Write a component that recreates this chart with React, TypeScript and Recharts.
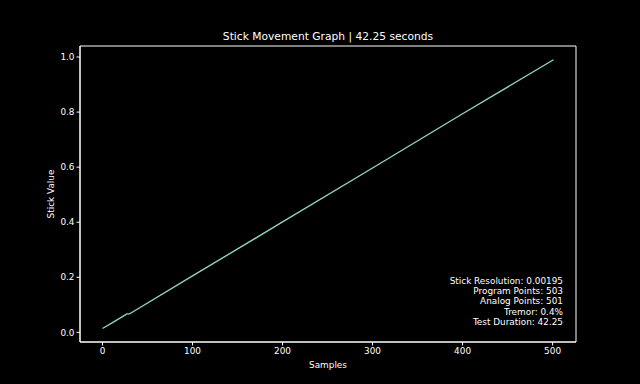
import { LineChart, Line, XAxis, YAxis, ReferenceArea } from 'recharts';

const samples = [0, 12, 24, 27, 30, 33, 100, 200, 300, 400, 501];
const stickValues = [0.014, 0.037, 0.061, 0.067, 0.067, 0.073, 0.205, 0.401, 0.597, 0.794, 0.99];
const xTicks = [0, 100, 200, 300, 400, 500];
const yTicks = [0, 0.2, 0.4, 0.6, 0.8, 1.0];
const statsLines = [
  'Stick Resolution: 0.00195',
  'Program Points: 503',
  'Analog Points: 501',
  'Tremor: 0.4%',
  'Test Duration: 42.25',
];

const data = samples.map((s, i) => ({ sample: s, value: stickValues[i] }));

const font = '"DejaVu Sans", sans-serif';
const fs = 8.9;
const xDomain = [-25, 526];
const yDomain = [-0.035, 1.04];

export default function App() {
  return (
    <div style={{ position: 'absolute', left: 0, top: 0, width: 640, height: 384, background: '#000', fontFamily: font }}>
      <LineChart width={640} height={384} data={data} margin={{ top: 46, right: 64, left: 0, bottom: 0 }}>
        <XAxis
          dataKey="sample"
          type="number"
          domain={xDomain}
          ticks={xTicks}
          allowDataOverflow
          height={42}
          stroke="#fff"
          tickSize={3.5}
          tick={{ fill: '#fff', fontSize: fs, fontFamily: font }}
          label={{ value: 'Samples', position: 'insideBottom', offset: 16, fill: '#fff', fontSize: fs, fontFamily: font }}
        />
        <YAxis
          type="number"
          domain={yDomain}
          ticks={yTicks}
          allowDataOverflow
          width={80}
          stroke="#fff"
          tickSize={3.5}
          tickFormatter={(v: number) => v.toFixed(1)}
          tick={{ fill: '#fff', fontSize: fs, fontFamily: font }}
          label={{ value: 'Stick Value', angle: -90, position: 'insideLeft', offset: 51, fill: '#fff', fontSize: fs, fontFamily: font, style: { textAnchor: 'middle' } }}
        />
        <ReferenceArea x1={xDomain[0]} x2={xDomain[1]} y1={yDomain[0]} y2={yDomain[1]} fill="none" stroke="#fff" strokeWidth={1} />
        <Line type="linear" dataKey="value" stroke="#8dd3c7" strokeWidth={1.4} dot={false} isAnimationActive={false} />
      </LineChart>
      <div style={{ position: 'absolute', left: 80, width: 496, top: 29, textAlign: 'center', color: '#fff', fontSize: 10.7, lineHeight: '15px' }}>
        Stick Movement Graph | 42.25 seconds
      </div>
      <div style={{ position: 'absolute', right: 640 - 563, top: 276, textAlign: 'right', color: '#fff', fontSize: fs, lineHeight: '10.2px', whiteSpace: 'nowrap' }}>
        {statsLines.map((t) => (
          <div key={t}>{t}</div>
        ))}
      </div>
    </div>
  );
}
